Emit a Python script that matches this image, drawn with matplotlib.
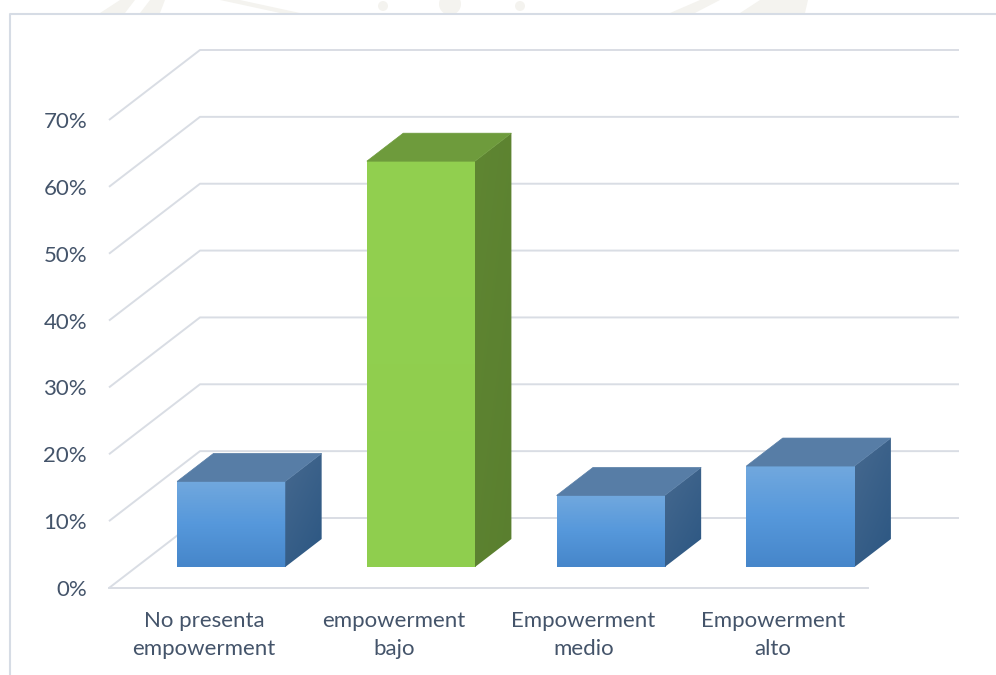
import numpy as np
import matplotlib
matplotlib.use("Agg")
import matplotlib.pyplot as plt
from matplotlib.patches import Polygon, Circle
from matplotlib.lines import Line2D
from matplotlib.colors import LinearSegmentedColormap

# ---- data -------------------------------------------------------------
categories = ["No presenta\nempowerment", "empowerment\nbajo",
              "Empowerment\nmedio", "Empowerment\nalto"]
values = [12.8, 60.7, 10.7, 15.1]          # percent
tick_values = [0, 10, 20, 30, 40, 50, 60, 70]
tick_labels = ["0%", "10%", "20%", "30%", "40%", "50%", "60%", "70%"]
highlight = 1                               # index of the green column

# ---- canvas / oblique 3-D frame ---------------------------------------
W, H = 996, 675
fig = plt.figure(figsize=(W / 100, H / 100), dpi=100)
fig.patch.set_facecolor("white")
ax = fig.add_axes([0, 0, 1, 1])
ax.set_autoscale_on(False)
ax.axis("off")
ax.set_zorder(2)

n = len(categories)
px_left, px_right = 109, 868     # front floor edge in pixels
px_zero, px_top = 588, 120       # front 0% and 70% in pixels
ux = (px_right - px_left) / n
uy = (px_zero - px_top) / tick_values[-1]
ax.set_xlim(-0.5 - px_left / ux, -0.5 + (W - px_left) / ux)
ax.set_ylim(-(H - px_zero) / uy, px_zero / uy)

DX, DY = 91 / ux, 70 / uy        # full depth offset in data units


def proj(x, y, d):
    return (x + d * DX, y + d * DY)


grid_col = "#D9DDE4"
text_col = "#44546A"
font = "Lato"

# walls: diagonal on the left side wall + horizontal on the back wall
x_lo, x_hi = -0.5, n - 0.5
for t in tick_values:
    pts = [proj(x_lo, t, 0), proj(x_lo, t, 1), proj(x_hi, t, 1)]
    xs, ys = zip(*pts)
    ax.plot(xs, ys, color=grid_col, lw=1.4, zorder=1, solid_capstyle="butt")
# front edge of the floor
xs, ys = zip(proj(x_lo, 0, 0), proj(x_hi, 0, 0))
ax.plot(xs, ys, color=grid_col, lw=1.4, zorder=1)

# ---- columns ----------------------------------------------------------
bw = 0.285                       # half column width
d0, d1 = 0.30, 0.70              # depth span of each column

blue_front = LinearSegmentedColormap.from_list("bf", ["#4686CA", "#5698DB", "#71A8DE"])
blue_side = LinearSegmentedColormap.from_list("bs", ["#2B5682", "#46698F"])
green_front = LinearSegmentedColormap.from_list("gf", ["#8FCE4E", "#92D050"])
green_side = LinearSegmentedColormap.from_list("gs", ["#5A7F2F", "#5F8632"])

grad = np.linspace(0, 1, 256).reshape(-1, 1)

for i, v in enumerate(values):
    is_green = (i == highlight)
    cf = green_front if is_green else blue_front
    cs = green_side if is_green else blue_side
    top_col = "#6E9B3C" if is_green else "#577DA6"

    x0, x1 = i - bw, i + bw
    # front face
    fx0, fy0 = proj(x0, 0, d0)
    fx1, fy1 = proj(x1, v, d0)
    ax.imshow(grad, cmap=cf, extent=[fx0, fx1, fy0, fy1], origin="lower",
              aspect="auto", interpolation="bicubic", zorder=3)

    # right side face with diagonal shading
    side = [proj(x1, 0, d0), proj(x1, v, d0), proj(x1, v, d1), proj(x1, 0, d1)]
    sp = Polygon(side, closed=True, facecolor="none", edgecolor="none", zorder=3)
    ax.add_patch(sp)
    sx = [p[0] for p in side]
    sy = [p[1] for p in side]
    yy, xx = np.mgrid[0:1:128j, 0:1:128j]
    sgrad = 0.6 * yy + 0.4 * (1 - xx)
    im = ax.imshow(sgrad, cmap=cs, extent=[min(sx), max(sx), min(sy), max(sy)],
                   origin="lower", aspect="auto", interpolation="bicubic", zorder=3)
    im.set_clip_path(sp)

    # top face
    top = [proj(x0, v, d0), proj(x1, v, d0), proj(x1, v, d1), proj(x0, v, d1)]
    ax.add_patch(Polygon(top, closed=True, facecolor=top_col,
                         edgecolor=top_col, lw=0.5, zorder=4))

# ---- labels -----------------------------------------------------------
for t, lab in zip(tick_values, tick_labels):
    ax.text(x_lo - 22 / ux, t - 2 / uy, lab, ha="right", va="center",
            fontsize=16, color=text_col, family=font)

for i, lab in enumerate(categories):
    ax.text(i, -23 / uy, lab, ha="center", va="top", fontsize=16,
            color=text_col, family=font, linespacing=1.5)

# ---- chart frame and faint watermark in the top margin -----------------
wm = "#F4F3EF"


def top_px(pts):
    # pixel coords measured from the top edge -> display coords
    return [(x, H - y) for x, y in pts]


deco = [
    Polygon(top_px([(100, 13), (120, 0), (135, 0), (125, 13)]), closed=True),
    Polygon(top_px([(140, 13), (150, 0), (165, 0), (160, 13)]), closed=True),
    Polygon(top_px([(220, 0), (240, 0), (300, 13), (280, 13)]), closed=True),
    Circle((383, H - 6), 5),
    Circle((450, H - 4), 11),
    Circle((520, H - 6), 5),
    Polygon(top_px([(670, 13), (700, 0), (720, 0), (695, 13)]), closed=True),
    Polygon(top_px([(740, 13), (760, 0), (808, 0), (805, 13)]), closed=True),
]
for p in deco:
    p.set_transform(None)
    p.set_facecolor(wm)
    p.set_edgecolor("none")
    p.set_zorder(0)
    fig.patches.append(p)

# white chart area over the watermark
area = Polygon([(10, 0), (W, 0), (W, H - 14), (10, H - 14)], closed=True,
               facecolor="white", edgecolor="none")
area.set_transform(None)
area.set_zorder(0.5)
fig.patches.append(area)
frame = Line2D([10, 10, W], [0, H - 14, H - 14], color="#D6DCE5", lw=1.5)
frame.set_transform(None)
frame.set_zorder(1)
fig.lines.append(frame)

fig.savefig("out.png", dpi=100, facecolor="white")
